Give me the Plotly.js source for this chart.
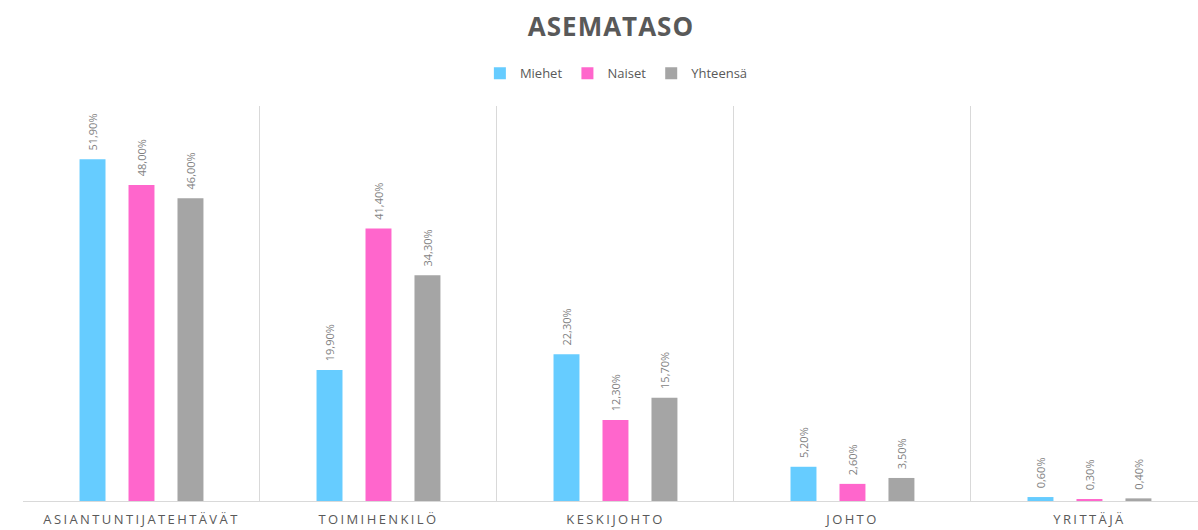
<!DOCTYPE html>
<html>
<head>
<meta charset="utf-8">
<script src="https://cdn.plot.ly/plotly-3.0.1.min.js"></script>
<style>
html,body{margin:0;padding:0;background:#fff;}
#chart{width:1198px;height:530px;}
#chart .xtick text{letter-spacing:2.4px;}
#chart .gtitle{letter-spacing:1px;}
</style>
</head>
<body>
<div id="chart"></div>
<script>
const categories = ["ASIANTUNTIJATEHTÄVÄT", "TOIMIHENKILÖ", "KESKIJOHTO", "JOHTO", "YRITTÄJÄ"];
const miehet = [51.9, 19.9, 22.3, 5.2, 0.6];
const naiset = [48.0, 41.4, 12.3, 2.6, 0.3];
const yhteensa = [46.0, 34.3, 15.7, 3.5, 0.4];

function tr(name, y, color) {
  return {
    type: 'bar', name: name, x: categories, y: y,
    marker: {color: color},
    texttemplate: '\u00a0\u00a0%{y:.2f}%',
    textposition: 'outside',
    textangle: -90,
    constraintext: 'none',
    cliponaxis: false,
    textfont: {family: 'Open Sans, sans-serif', size: 11, color: '#7f7f7f'},
    hoverinfo: 'x+y'
  };
}

const data = [
  tr('Miehet', miehet, '#66CCFF'),
  tr('Naiset', naiset, '#FF66CC'),
  tr('Yhteensä', yhteensa, '#A5A5A5')
];

const layout = {
  width: 1198, height: 530,
  margin: {l: 23, r: 0, t: 106, b: 29},
  paper_bgcolor: '#fff', plot_bgcolor: '#fff',
  separators: ',.',
  font: {family: 'Open Sans, sans-serif', color: '#595959'},
  title: {text: '<b>ASEMATASO</b>', x: 0.51, xref: 'container', y: 0.949, yref: 'container', yanchor: 'middle',
          font: {family: 'Open Sans, sans-serif', size: 26, color: '#595959'}},
  barmode: 'group',
  bargap: 0.38,
  bargroupgap: 0.47,
  showlegend: true,
  legend: {orientation: 'h', x: 0.505, xanchor: 'center', y: 1.083, yanchor: 'middle',
           font: {size: 13, color: '#595959'}, itemwidth: 30, traceorder: 'normal'},
  xaxis: {
    type: 'category',
    range: [-0.5, 4.458],
    tickson: 'boundaries',
    showgrid: true, gridcolor: '#d9d9d9', gridwidth: 1,
    showline: true, linecolor: '#d9d9d9', linewidth: 1,
    ticks: '', ticklabelstandoff: 6,
    tickfont: {size: 13, color: '#595959'},
    fixedrange: true
  },
  yaxis: {
    range: [0, 60], visible: false, showgrid: false, zeroline: false, fixedrange: true
  }
};

Plotly.newPlot('chart', data, layout, {displayModeBar: false, staticPlot: true});
</script>
</body>
</html>
